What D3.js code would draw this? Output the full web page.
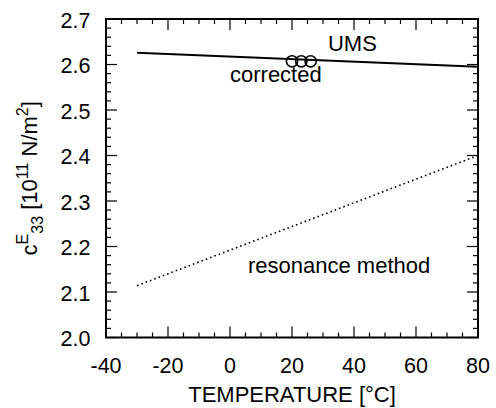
<!DOCTYPE html>
<meta charset="utf-8">
<style>
    html, body {
        margin: 0;
        padding: 0;
        background: #fff;
    }
    svg text {
        font-family: "Liberation Sans", Arial, sans-serif;
        fill: #000;
    }
    .tick-label { font-size: 21.5px; }
    .label { font-size: 22px; }
</style>
<body>
<div id="chart"></div>
<script src="https://cdn.jsdelivr.net/npm/d3@7"></script>
<script>
    // data
    var correctedT = [-30, 80],
        correctedC = [2.626, 2.595];
    var resonanceT = [-30, 80],
        resonanceC = [2.114, 2.400];
    var umsT = [20, 23, 26],
        umsC = [2.607, 2.607, 2.607];
    var xTicks = [-40, -20, 0, 20, 40, 60, 80],
        yTicks = [2.0, 2.1, 2.2, 2.3, 2.4, 2.5, 2.6, 2.7];
    var notes = [
        {t: 31.6, c: 2.630, text: "UMS"},
        {t: 0, c: 2.561, text: "corrected"},
        {t: 5.8, c: 2.142, text: "resonance method"}
    ];

    var W = 496, H = 408;
    var margin = {top: 19, right: 18, bottom: 70.5, left: 106},
        width = W - margin.left - margin.right,
        height = H - margin.top - margin.bottom;

    var x = d3.scaleLinear().domain([-40, 80]).range([0, width]),
        y = d3.scaleLinear().domain([2.0, 2.7]).range([height, 0]);

    var svg = d3.select("#chart").append("svg")
        .attr("width", W)
        .attr("height", H);

    var g = svg.append("g")
        .attr("transform", "translate(" + margin.left + "," + margin.top + ")");

    // minor + major ticks, pointing inward on all four sides
    var xMinor = d3.range(-40, 80.1, 5),
        yMinor = d3.range(0, 36).map(function(i) { return 2.0 + i * 0.02; });

    function isMajorX(v) { return Math.abs(v % 20) < 1e-6; }
    function isMajorY(v) { return Math.abs(Math.round(v * 10) - v * 10) < 1e-6; }

    var ticks = g.append("g").attr("stroke", "#000").attr("stroke-width", 1.2);

    xMinor.forEach(function(v) {
        var len = isMajorX(v) ? 11 : 5;
        ticks.append("line").attr("x1", x(v)).attr("x2", x(v))
            .attr("y1", height).attr("y2", height - len);
        ticks.append("line").attr("x1", x(v)).attr("x2", x(v))
            .attr("y1", 0).attr("y2", len);
    });
    yMinor.forEach(function(v) {
        var len = isMajorY(v) ? 11 : 5;
        ticks.append("line").attr("y1", y(v)).attr("y2", y(v))
            .attr("x1", 0).attr("x2", len);
        ticks.append("line").attr("y1", y(v)).attr("y2", y(v))
            .attr("x1", width).attr("x2", width - len);
    });

    // frame
    g.append("rect")
        .attr("width", width)
        .attr("height", height)
        .attr("fill", "none")
        .attr("stroke", "#000")
        .attr("stroke-width", 2);

    // tick labels
    g.selectAll(".xl").data(xTicks).enter().append("text")
        .attr("class", "tick-label")
        .attr("x", function(d) { return x(d); })
        .attr("y", height + 35.5)
        .attr("text-anchor", "middle")
        .text(function(d) { return d; });

    g.selectAll(".yl").data(yTicks).enter().append("text")
        .attr("class", "tick-label")
        .attr("x", -15.5)
        .attr("y", function(d) { return y(d) + 8.5; })
        .attr("text-anchor", "end")
        .text(function(d) { return d.toFixed(1); });

    // lines
    var line = d3.line()
        .x(function(d) { return x(d[0]); })
        .y(function(d) { return y(d[1]); });

    g.append("path")
        .datum(d3.zip(correctedT, correctedC))
        .attr("d", line)
        .attr("fill", "none")
        .attr("stroke", "#000")
        .attr("stroke-width", 2);

    g.append("path")
        .datum(d3.zip(resonanceT, resonanceC))
        .attr("d", line)
        .attr("fill", "none")
        .attr("stroke", "#000")
        .attr("stroke-width", 1.6)
        .attr("stroke-dasharray", "1.6,3");

    g.selectAll(".ums").data(d3.zip(umsT, umsC)).enter().append("circle")
        .attr("cx", function(d) { return x(d[0]); })
        .attr("cy", function(d) { return y(d[1]); })
        .attr("r", 5.6)
        .attr("fill", "none")
        .attr("stroke", "#000")
        .attr("stroke-width", 1.6);

    // annotations
    g.selectAll(".note").data(notes).enter().append("text")
        .attr("class", "label")
        .attr("x", function(d) { return x(d.t); })
        .attr("y", function(d) { return y(d.c); })
        .text(function(d) { return d.text; });

    // axis titles
    svg.append("text")
        .attr("class", "label")
        .attr("x", margin.left + width / 2)
        .attr("y", 402)
        .attr("text-anchor", "middle")
        .text("TEMPERATURE [°C]");

    var yt = svg.append("text")
        .attr("class", "label")
        .attr("transform", "translate(37," + (margin.top + height / 2) + ") rotate(-90)")
        .attr("text-anchor", "middle");
    yt.append("tspan").text("c");
    yt.append("tspan").attr("dy", -9).style("font-size", "16px").text("E");
    yt.append("tspan").attr("dy", 15).style("font-size", "16px").text("33");
    yt.append("tspan").attr("dy", -6).text(" [10");
    yt.append("tspan").attr("dy", -9).style("font-size", "16px").text("11");
    yt.append("tspan").attr("dy", 9).text(" N/m");
    yt.append("tspan").attr("dy", -9).style("font-size", "16px").text("2");
    yt.append("tspan").attr("dy", 9).text("]");
</script>
</body>
